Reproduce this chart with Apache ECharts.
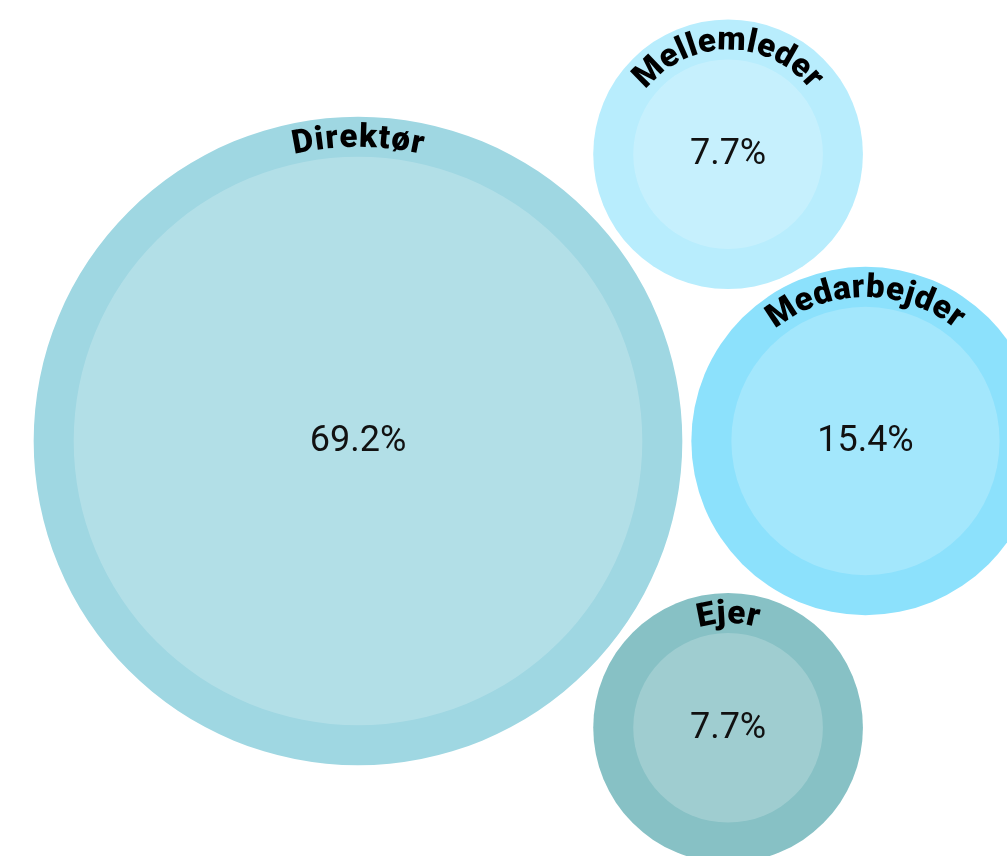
<!DOCTYPE html>
<html>
<head>
<meta charset="utf-8">
<script src="https://cdn.jsdelivr.net/npm/echarts@6/dist/echarts.min.js"></script>
<style>
html,body{margin:0;padding:0;background:#fff;}
#chart{width:1007px;height:856px;}
</style>
</head>
<body>
<div id="chart"></div>
<script>
// ---- data ----
const categories = ['Direktør', 'Mellemleder', 'Medarbejder', 'Ejer'];
const shares = [69.2, 7.7, 15.4, 7.7];
const valueLabels = ['69.2%', '7.7%', '15.4%', '7.7%'];

// ---- styles / layout constants ----
const colors = ['#9fd7e2', '#b8edfd', '#8ce1fc', '#87c1c5'];
const SIZE_K = 34.18;      // inner radius = K * sqrt(value)
const RING = 40;           // ring thickness
const GAP = 9;             // gap between bubbles
const ANCHOR = [358, 441]; // centre of the largest bubble
const LABEL_FONT = '900 33px Roboto';
const LETTER_SP = 1.5;

const innerR = shares.map(v => SIZE_K * Math.sqrt(v));
const outerR = innerR.map(r => r + RING);

// simple sibling packing: largest at origin, second to its right,
// third tangent to both above, fourth tangent to both below
const order = shares.map((v, i) => i).sort((a, b) => shares[b] - shares[a]);
const pos = new Array(shares.length);
(function pack() {
  const a = order[0], b = order[1];
  pos[a] = [0, 0];
  const dab = outerR[a] + outerR[b] + GAP;
  pos[b] = [dab, 0];
  [order[2], order[3]].forEach((c, k) => {
    if (c === undefined) return;
    const d1 = outerR[a] + outerR[c] + GAP;
    const d2 = outerR[b] + outerR[c] + GAP;
    const x = (d1 * d1 - d2 * d2 + dab * dab) / (2 * dab);
    const y = Math.sqrt(Math.max(0, d1 * d1 - x * x));
    pos[c] = [x, k === 0 ? -y : y];
  });
})();
const bubbleData = shares.map((v, i) => [ANCHOR[0] + pos[i][0], ANCHOR[1] + pos[i][1], innerR[i], i]);

const measureCtx = document.createElement('canvas').getContext('2d');
function charWidths(str, font) {
  measureCtx.font = font;
  return Array.from(str).map(ch => measureCtx.measureText(ch).width + LETTER_SP);
}

const chart = echarts.init(document.getElementById('chart'), null, {renderer: 'canvas'});
chart.setOption({
  animation: false,
  grid: {left: 0, right: 0, top: 0, bottom: 0},
  xAxis: {type: 'value', min: 0, max: 1007, show: false},
  yAxis: {type: 'value', min: 0, max: 856, inverse: true, show: false},
  series: [{
    type: 'custom',
    coordinateSystem: 'cartesian2d',
    clip: false,
    data: bubbleData,
    renderItem: function (params, api) {
      const i = api.value(3);
      const c = api.coord([api.value(0), api.value(1)]);
      const rIn = api.size([api.value(2), 0])[0];
      const rOut = rIn + RING;
      const children = [
        {type: 'circle', shape: {cx: c[0], cy: c[1], r: rOut}, style: {fill: colors[i]}},
        {type: 'circle', shape: {cx: c[0], cy: c[1], r: rIn}, style: {fill: 'rgba(255,255,255,0.2)'}},
        {type: 'text', x: c[0], y: c[1] + 1, style: {text: valueLabels[i], fill: '#111', font: '400 36px Roboto', align: 'center', verticalAlign: 'middle'}}
      ];
      const name = categories[i];
      const chars = Array.from(name);
      const widths = charWidths(name, LABEL_FONT);
      const total = widths.reduce((s, w) => s + w, 0);
      const rArc = rIn + 18;
      let acc = 0;
      chars.forEach((ch, k) => {
        const mid = acc + widths[k] / 2;
        acc += widths[k];
        const th = (mid - total / 2) / rArc;
        children.push({
          type: 'text',
          x: c[0] + rArc * Math.sin(th),
          y: c[1] - rArc * Math.cos(th),
          rotation: -th,
          style: {text: ch, fill: '#000', font: LABEL_FONT, align: 'center', verticalAlign: 'middle'}
        });
      });
      return {type: 'group', children: children};
    }
  }]
});
</script>
</body>
</html>
